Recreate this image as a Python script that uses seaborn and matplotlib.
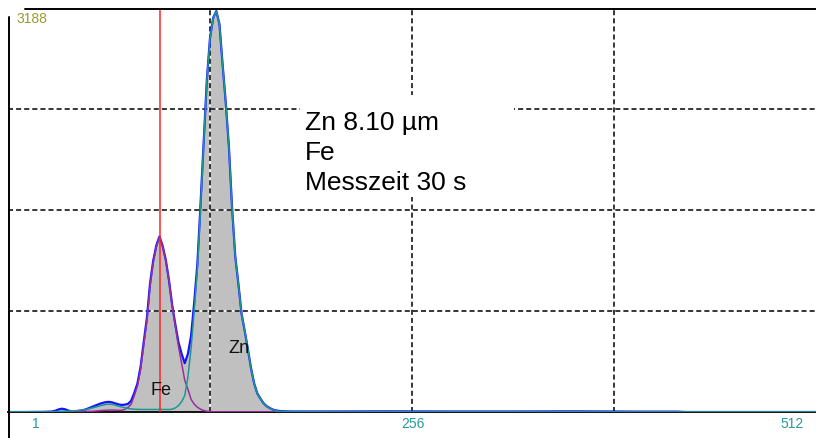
import matplotlib
matplotlib.use("Agg")
import matplotlib.pyplot as plt
import seaborn as sns
import pandas as pd
from matplotlib.lines import Line2D
from matplotlib.patches import Rectangle

# channel grid (peak region every 2 channels)
head_channels = [0, 10, 20, 22]
peak_channels = [24, 26, 28, 30, 32, 34, 36, 38, 40, 42, 44, 46, 48, 50, 52, 54,
                 56, 58, 60, 62, 64, 66, 68, 70, 72, 74, 76, 78, 80, 82, 84, 86,
                 88, 90, 92, 94, 96, 98, 100, 102, 104, 106, 108, 110, 112, 114,
                 116, 118, 120, 122, 124, 126, 128, 130, 132, 134, 136, 138, 140,
                 142, 144, 146, 148, 150, 152, 154, 156, 158, 160, 162, 164, 166,
                 168, 170, 172, 174, 176]
tail_channels = [180, 200, 240, 280, 320, 360, 400, 424, 430, 512]

# measured counts (blue outline, grey fill)
head_measured = [0, 0, 1, 1]
peak_measured = [2, 3, 4, 10, 20, 26, 22, 12, 6, 5, 7, 10, 16, 24, 34, 44,
                 54, 64, 72, 78, 80, 76, 68, 60, 56, 58, 64, 88, 150, 225, 355, 552,
                 741, 1014, 1193, 1315, 1386, 1310, 1200, 1040, 847, 694, 551, 460, 385, 459,
                 600, 865, 1170, 1640, 2132, 2620, 2950, 3110, 3164, 3060, 2740, 2440, 2090,
                 1610, 1230, 1010, 775, 640, 497, 345, 225, 146, 105, 68, 45, 30,
                 18, 12, 8, 6, 5]
tail_measured = [4, 4, 5, 4, 4, 5, 3, 3, 0, 0]

# Fe fit (purple)
head_fe = [1, 1, 1, 1]
peak_fe = [1, 1, 2, 2, 2, 2, 2, 2, 2, 2, 2, 3, 3, 4, 5, 6,
           8, 10, 12, 14, 15, 15, 14, 13, 14, 20, 36, 60, 128, 205, 335, 530,
           722, 995, 1178, 1305, 1380, 1305, 1195, 1035, 840, 680, 520, 385, 250, 180,
           100, 62, 38, 22, 12, 6, 3, 2, 1, 1, 1, 1, 1,
           1, 1, 1, 1, 1, 1, 1, 1, 1, 1, 1, 1, 1,
           1, 1, 1, 1, 1]
tail_fe = [1, 1, 1, 1, 1, 1, 1, 1, 1, 1]

# Zn fit (teal)
head_zn = [1, 1, 1, 1]
peak_zn = [1, 1, 2, 3, 4, 5, 6, 7, 8, 10, 12, 15, 18, 22, 28, 34,
           40, 48, 54, 60, 62, 60, 54, 46, 40, 34, 28, 25, 22, 21, 20, 20,
           20, 20, 20, 20, 20, 20, 20, 20, 22, 32, 50, 80, 130, 275,
           500, 800, 1130, 1615, 2120, 2612, 2946, 3107, 3162, 3058, 2738, 2438, 2088,
           1608, 1228, 1008, 773, 638, 495, 343, 223, 144, 103, 66, 43, 28,
           16, 10, 6, 4, 3]
tail_zn = [2, 1, 1, 1, 1, 1, 1, 1, 1, 1]

y_max = 3188
grid_channels = [128, 256, 384]
grid_counts = [797, 1594, 2391]
fe_marker_channel = 96.6
info_lines = ["Zn 8.10 µm", "Fe", "Messzeit 30 s"]
bottom_labels = ["1", "256", "512"]

spec = pd.DataFrame({
    "channel": head_channels + peak_channels + tail_channels,
    "measured": head_measured + peak_measured + tail_measured,
    "fe": head_fe + peak_fe + tail_fe,
    "zn": head_zn + peak_zn + tail_zn,
})

sns.set_style("white")
plt.rcParams['font.family'] = ['Liberation Sans', 'DejaVu Sans']

W, H = 816, 439
fig = plt.figure(figsize=(W / 100, H / 100), dpi=100)
ax = fig.add_axes([8 / W, 26 / H, 808 / W, 404 / H])
ax.set_xlim(0, 512)
ax.set_ylim(0, y_max)
ax.set_xticks([])
ax.set_yticks([])
for side in ["top", "left", "right"]:
    ax.spines[side].set_visible(False)
ax.spines["bottom"].set_color("#111111")
ax.spines["bottom"].set_linewidth(1.4)

# grey area under the measured spectrum
ax.fill_between(spec["channel"], spec["measured"], color="#c0c0c0", lw=0, zorder=1)

# dashed grid, white between the dashes
for c in grid_channels:
    ax.axvline(c, color="white", lw=1.1, zorder=2)
    ax.axvline(c, color="black", lw=1.1, dashes=(3.3, 2.0), zorder=2.1)
for c in grid_counts:
    ax.axhline(c, color="white", lw=1.1, zorder=2)
    ax.axhline(c, color="black", lw=1.1, dashes=(3.3, 2.0), zorder=2.1)

sns.lineplot(data=spec, x="channel", y="measured", ax=ax, color="#1414ff",
             lw=1.6, zorder=3)
sns.lineplot(data=spec, x="channel", y="fe", ax=ax, color="#9a2ea0",
             lw=1.1, zorder=3.2)
sns.lineplot(data=spec, x="channel", y="zn", ax=ax, color="#1f9696",
             lw=1.1, zorder=3.3)
ax.set_xlabel("")
ax.set_ylabel("")

ax.axvline(fe_marker_channel, color="#ff2626", lw=1.1, zorder=4)

ax.text((150 - 8) / 808, (413 - 395) / 404, "Fe", transform=ax.transAxes,
        fontsize=13, color="#111111", va="baseline", ha="left", zorder=5)
ax.text((228 - 8) / 808, (413 - 353) / 404, "Zn", transform=ax.transAxes,
        fontsize=13, color="#111111", va="baseline", ha="left", zorder=5)

# info box
ax.add_patch(Rectangle((292 / 808, (413 - 198) / 404), 214 / 808, 102 / 404,
                       transform=ax.transAxes, facecolor="white", edgecolor="none",
                       zorder=6))
for i, line in enumerate(info_lines):
    ax.text((305 - 8) / 808, (413 - 130 - 30 * i) / 404, line, transform=ax.transAxes,
            fontsize=19, color="black", va="baseline", ha="left", zorder=7)

# frame pieces outside the axes
fig.add_artist(Line2D([8.5 / W, 8.5 / W], [0, 1 - 18 / H], transform=fig.transFigure,
                      color="black", lw=1.4))
fig.add_artist(Line2D([25 / W, 1], [1 - 9.5 / H, 1 - 9.5 / H], transform=fig.transFigure,
                      color="black", lw=1.4))
fig.text(16 / W, 1 - 23 / H, "3188", fontsize=10, color="#9a9a2e", va="baseline", ha="left")
for lab, px in zip(bottom_labels, [36, 413, 792]):
    fig.text(px / W, 1 - 428 / H, lab, fontsize=10, color="#2a9a9a", va="baseline",
             ha="center")

fig.savefig("out.png", dpi=100)
